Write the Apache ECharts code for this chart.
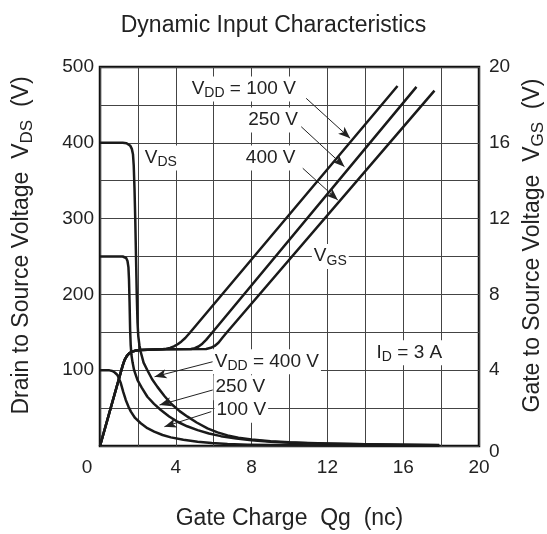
<!DOCTYPE html>
<html><head><meta charset="utf-8">
<script src="https://cdn.jsdelivr.net/npm/echarts@6/dist/echarts.min.js"></script>
<style>html,body{margin:0;padding:0;background:#fff}#c{width:547px;height:534px}</style>
</head><body><div id="c"></div>
<script>
// Tick labels
const xTicks = [0, 4, 8, 12, 16, 20];
const vdsTicks = [100, 200, 300, 400, 500];
const vgsTicks = [0, 4, 8, 12, 16, 20];

// V_DS curves [Qg (nC), V_DS (V)]
const vds400 = [[0,400],[1.2,400],[1.4,399.5],[1.5,398.5],[1.6,396],[1.68,392],[1.74,385],[1.78,370],[1.82,340],[1.86,300],[1.9,250],[1.94,200],[1.98,163],[2.02,145],[2.08,133],[2.15,124],[2.3,110],[2.5,100],[2.75,88],[3.03,78],[3.4,66],[3.74,56],[4.2,46],[4.62,38.7],[5.1,31],[5.67,23.3],[6.2,18],[6.73,14],[7.3,11],[8,8.5],[9,6.3],[10,4.8],[11,3.9],[12,3.3],[14,2.4],[16,1.8],[17.9,1.2]];
const vds250 = [[0,250],[1.2,250],[1.3,249.5],[1.38,248],[1.45,244],[1.5,236],[1.53,220],[1.56,190],[1.59,153],[1.62,133],[1.66,120],[1.72,110],[1.8,100],[1.98,87],[2.2,77],[2.5,65],[2.85,55.5],[3.21,47.5],[3.65,39],[4.09,32],[4.6,26],[5.15,21],[5.75,16.5],[6.38,13],[7.2,10],[8,7.5],[9,5.6],[10,4.3],[11,3.5],[12,3],[14,2.2],[16,1.6],[17.9,1.1]];
const vds100 = [[0,100],[0.5,99.8],[0.65,99],[0.78,97],[0.92,93.7],[1.0,89],[1.1,82.7],[1.23,71],[1.36,60.7],[1.5,52],[1.63,45.3],[1.85,37],[2.15,30],[2.5,23.5],[2.86,18.9],[3.3,14.5],[3.74,11.4],[4.4,8.2],[5.15,5.7],[5.9,3.9],[6.73,2.6],[7.8,1.8],[9,1.3],[12,0.7],[15,0.4],[17.9,0.2]];

// V_GS curves [Qg (nC), V_GS (V)]
const vgs100 = [[0,0],[1.0,3.55],[1.2,4.25],[1.3,4.55],[1.42,4.76],[1.54,4.89],[1.7,4.98],[1.9,5.04],[2.15,5.07],[2.8,5.09],[3.3,5.1],[3.5,5.13],[3.7,5.18],[3.9,5.26],[4.1,5.37],[4.3,5.52],[4.5,5.7],[4.72,5.95],[15.7,19.0]];
const vgs250 = [[0,0],[1.0,3.55],[1.2,4.25],[1.3,4.55],[1.42,4.76],[1.54,4.89],[1.7,4.98],[1.9,5.04],[2.15,5.07],[3.3,5.1],[4.8,5.12],[5.0,5.16],[5.2,5.25],[5.4,5.4],[5.6,5.6],[5.85,5.9],[16.7,18.95]];
const vgs400 = [[0,0],[1.0,3.55],[1.2,4.25],[1.3,4.55],[1.42,4.76],[1.54,4.89],[1.7,4.98],[1.9,5.04],[2.15,5.07],[3.3,5.1],[5.6,5.12],[5.85,5.18],[6.05,5.28],[6.25,5.45],[6.48,5.74],[6.7,6.0],[17.65,18.75]];

// Annotation arrows, from -> to, in [Qg, V_DS] units
const arrowLines = [
  [[10.88,458.7],[13.2,405.9]],
  [[10.62,421.2],[12.9,368.5]],
  [[10.7,366.4],[12.55,324.5]],
  [[5.95,111.2],[2.88,91.4]],
  [[5.95,73.9],[3.14,54.1]],
  [[5.87,45.3],[3.4,25.5]]
];
// Annotation texts and their anchor (left edge, vertical middle) in [Qg, V_DS] units
const labelTexts = ['{n|V}{s|DD}{n| = 100 V}','{n|250 V}','{n|400 V}','{n|V}{s|DS}','{n|V}{s|GS}','{n|I}{s|D}{n| = 3 A}','{n|V}{s|DD}{n| = 400 V}','{n|250 V}','{n|100 V}'];
const labelPos = [[4.73,471],[7.72,430],[7.59,380],[2.26,380],[11.18,250],[14.49,123],[5.95,111],[5.99,77],[6.04,47]];

const FONT = "'Liberation Sans', Arial, Helvetica, sans-serif";
const TXT = '#222';
const richSub = {
  n: {fontSize: 19, lineHeight: 24, verticalAlign: 'middle', color: TXT, fontFamily: FONT},
  s: {fontSize: 14, lineHeight: 10, verticalAlign: 'bottom', color: TXT, fontFamily: FONT}
};
const richName = {
  n: {fontSize: 23, lineHeight: 28, verticalAlign: 'middle', color: TXT, fontFamily: FONT},
  s: {fontSize: 17, lineHeight: 12, verticalAlign: 'bottom', color: TXT, fontFamily: FONT}
};

const chart = echarts.init(document.getElementById('c'), null, {renderer: 'canvas'});

function curve(data, yIdx) {
  return {type: 'line', data: data, yAxisIndex: yIdx, showSymbol: false, smooth: false,
    lineStyle: {color: '#1a1a1a', width: 2.5, join: 'round'}, silent: true, z: 3};
}

const option = {
  animation: false,
  backgroundColor: '#fff',
  title: {text: 'Dynamic Input Characteristics', left: 'center', top: 9,
    textStyle: {fontSize: 23, fontWeight: 'normal', color: TXT, fontFamily: FONT}},
  grid: {left: 100, right: 68, top: 67, bottom: 88, containLabel: false, outerBoundsMode: 'none',
    show: true, borderColor: '#111', borderWidth: 2.5, backgroundColor: 'transparent'},
  xAxis: {type: 'value', min: 0, max: 20, interval: 2,
    name: 'Gate Charge  Qg  (nc)', nameLocation: 'middle', nameGap: 61,
    nameTextStyle: {fontSize: 23, color: TXT, fontFamily: FONT},
    axisLine: {show: false}, axisTick: {show: false},
    splitLine: {show: true, lineStyle: {color: '#444', width: 1}},
    axisLabel: {margin: 12, fontSize: 19, color: TXT, fontFamily: FONT,
      formatter: v => xTicks.includes(v) ? (v === 0 ? '{z|0}' : String(v)) : '',
      rich: {z: {fontSize: 19, color: TXT, fontFamily: FONT, padding: [0, 26, 0, 0]}}}},
  yAxis: [
    {type: 'value', position: 'left', min: 0, max: 500, interval: 50,
      name: '{n|Drain to Source Voltage  V}{s|DS}{n|  (V)}', nameLocation: 'middle', nameGap: 64, nameRotate: 90,
      nameTextStyle: {fontSize: 23, color: TXT, fontFamily: FONT, padding: [0, 0, 0, 22], rich: richName},
      axisLine: {show: false}, axisTick: {show: false},
      splitLine: {show: true, lineStyle: {color: '#444', width: 1}},
      axisLabel: {margin: 6, fontSize: 19, color: TXT, fontFamily: FONT,
        formatter: v => vdsTicks.includes(v) ? String(v) : ''}},
    {type: 'value', position: 'right', min: 0, max: 20, interval: 4,
      name: '{n|Gate to Source Voltage  V}{s|GS}{n|  (V)}', nameLocation: 'middle', nameGap: 37, nameRotate: 90,
      nameTextStyle: {fontSize: 23, color: TXT, fontFamily: FONT, padding: [0, 0, 0, 22], rich: richName},
      axisLine: {show: false}, axisTick: {show: false}, splitLine: {show: false},
      axisLabel: {margin: 10, fontSize: 19, color: TXT, fontFamily: FONT,
        formatter: v => vgsTicks.includes(v) ? (v === 0 ? '{z|0}' : String(v)) : '',
        rich: {z: {fontSize: 19, color: TXT, fontFamily: FONT, padding: [12, 0, 0, 0]}}}}
  ],
  series: [
    curve(vds400, 0), curve(vds250, 0), curve(vds100, 0),
    curve(vgs100, 1), curve(vgs250, 1), curve(vgs400, 1),
    {type: 'line', yAxisIndex: 0, data: [], silent: true, z: 5,
      markLine: {silent: true, symbol: ['none', 'arrow'], symbolSize: [7, 12], animation: false,
        label: {show: false}, lineStyle: {color: '#222', width: 1, type: 'solid'},
        emphasis: {disabled: true},
        data: arrowLines.map(a => [{coord: a[0]}, {coord: a[1]}])},
      markPoint: {silent: true, symbol: 'rect', symbolSize: 0, animation: false,
        label: {show: true, position: 'inside', align: 'left', verticalAlign: 'middle',
          backgroundColor: '#fff', padding: [0, 2, 1, 2], rich: richSub},
        data: labelPos.map((p, i) => ({coord: p, value: 0, label: {formatter: labelTexts[i]}}))}}
  ]
};
chart.setOption(option);
</script></body></html>
